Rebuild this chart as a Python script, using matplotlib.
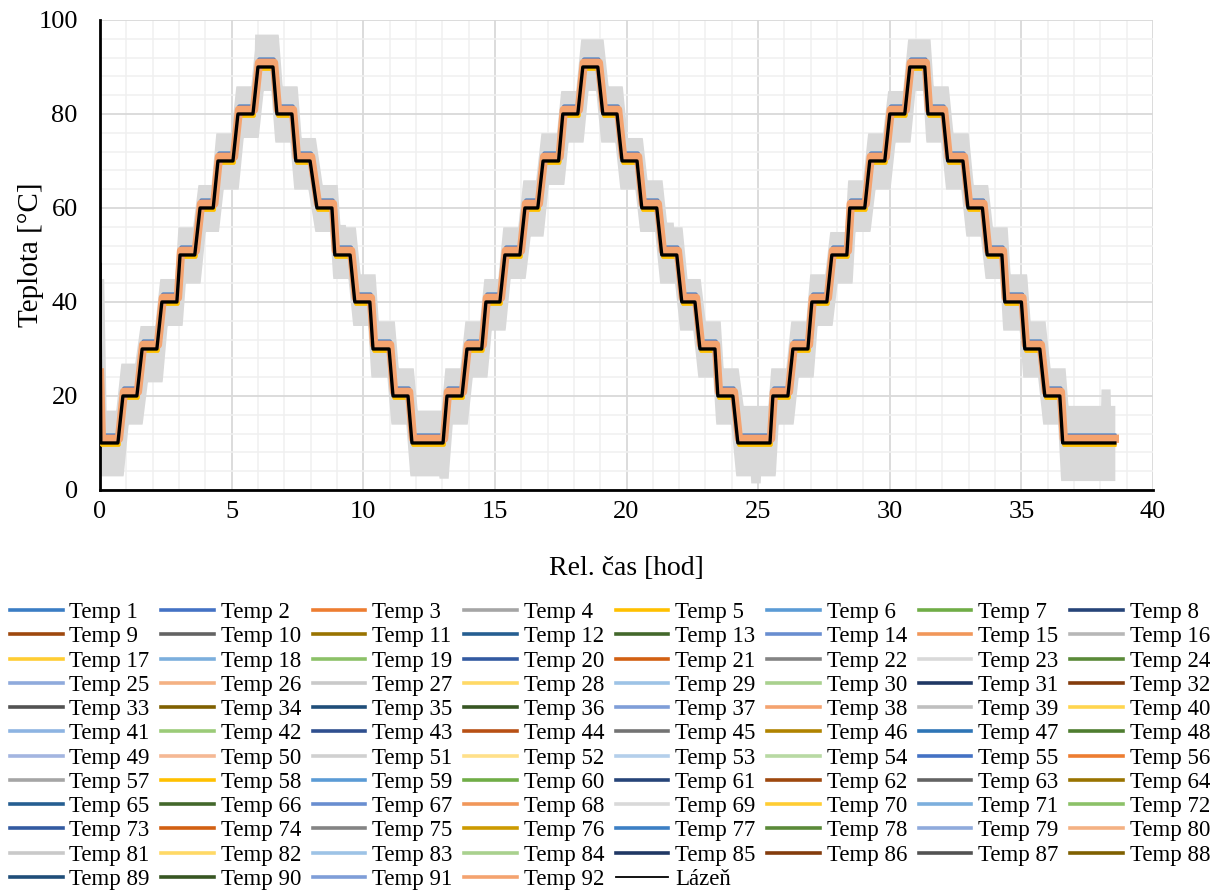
import numpy as np
import matplotlib.pyplot as plt
from matplotlib.lines import Line2D
from matplotlib.ticker import MultipleLocator

plt.rcParams['font.family'] = ['Liberation Serif', 'DejaVu Serif']

# plateaus of the bath set point: level [°C], start and end [hod]
plateau_levels = [10, 20, 30, 40, 50, 60, 70, 80, 90, 80, 70, 60, 50, 40, 30, 20, 10,
                  20, 30, 40, 50, 60, 70, 80, 90, 80, 70, 60, 50, 40, 30, 20, 10,
                  20, 30, 40, 50, 60, 70, 80, 90, 80, 70, 60, 50, 40, 30, 20, 10]
plateau_start = [0.03, 0.87, 1.60, 2.35, 3.04, 3.80, 4.48, 5.24, 6.00, 6.72, 7.44, 8.24, 8.92,
                 9.68, 10.37, 11.13, 11.85,
                 13.18, 13.94, 14.66, 15.38, 16.14, 16.83, 17.58, 18.34, 19.10, 19.83, 20.58,
                 21.34, 22.10, 22.79, 23.47, 24.23,
                 25.56, 26.32, 27.04, 27.80, 28.48, 29.24, 30.00, 30.76, 31.45, 32.20, 32.97,
                 33.70, 34.37, 35.13, 35.89, 36.57]
plateau_end = [0.68, 1.40, 2.16, 2.92, 3.60, 4.30, 5.05, 5.81, 6.57, 7.29, 7.98, 8.81, 9.50,
               10.25, 10.98, 11.70, 13.03,
               13.75, 14.50, 15.19, 15.95, 16.63, 17.42, 18.15, 18.91, 19.64, 20.40, 21.15,
               21.91, 22.60, 23.36, 24.04, 25.45,
               26.13, 26.89, 27.61, 28.37, 29.05, 29.81, 30.57, 31.33, 32.02, 32.78, 33.52,
               34.26, 35.00, 35.70, 36.46, 38.55]
bath_first_value = 48
sensor_first_value = 25

# spread of the noisy sensors around each plateau (above / below) [°C]
noise_hi = [7, 7, 5, 5, 6, 5, 6, 6, 7, 6, 5, 5, 6, 6, 6, 6, 7,
            6, 6, 5, 6, 6, 6, 5, 6, 6, 5, 6, 6, 5, 6, 6, 8,
            6, 6, 6, 5, 6, 6, 5, 6, 6, 6, 5, 6, 6, 6, 6, 8]
noise_lo = [7, 6, 7, 5, 6, 5, 6, 5, 5, 6, 6, 5, 5, 5, 6, 6, 7,
            6, 6, 6, 5, 6, 5, 6, 5, 6, 6, 5, 6, 6, 6, 6, 7,
            6, 6, 5, 6, 5, 6, 6, 5, 6, 6, 6, 5, 6, 6, 6, 8]
noise_first = (22, 45)
# single spikes of the noisy sensors: time [hod], value [°C]
spike_t = [6.05, 18.45, 30.85, 13.05, 24.9, 37.3, 38.2, 9.15, 21.6]
spike_v = [97, 96, 96, 2.5, 1.5, 2.5, 21.5, 56.5, 57]

series_colors = [
    "#3B7DC4", "#4472C4", "#ED7D31", "#A5A5A5", "#FFC000", "#5B9BD5", "#70AD47", "#264478",
    "#9E480E", "#636363", "#997300", "#255E91", "#43682B", "#698ED0", "#F1975A", "#B7B7B7",
    "#FFCD33", "#7CAFDD", "#8CC168", "#335AA1", "#D26012", "#848484", "#D9D9D9", "#5A8A39",
    "#8FAADC", "#F4B183", "#C9C9C9", "#FFD966", "#9DC3E6", "#A9D18E", "#203864", "#843C0C",
    "#525252", "#7F6000", "#1F4E79", "#375623", "#7F9ED8", "#F4A36F", "#BFBFBF", "#FFD54F",
    "#8DB4E2", "#9BCB78", "#2F4F8F", "#B85015", "#737373", "#B08300", "#2E75B6", "#4E7D2F",
    "#A3B5E0", "#F5B894", "#D0D0D0", "#FFE08A", "#B4CFEB", "#B8D9A3", "#4472C4", "#ED7D31",
    "#A5A5A5", "#FFC000", "#5B9BD5", "#70AD47", "#264478", "#9E480E", "#636363", "#997300",
    "#255E91", "#43682B", "#698ED0", "#F1975A", "#D9D9D9", "#FFCD33", "#7CAFDD", "#8CC168",
    "#335AA1", "#D26012", "#848484", "#CC9A00", "#3C7FC4", "#5A8A39", "#8FAADC", "#F4B183",
    "#C9C9C9", "#FFD966", "#9DC3E6", "#A9D18E", "#203864", "#843C0C", "#525252", "#7F6000",
    "#1F4E79", "#375623", "#7F9ED8", "#F4A36F",
]
# offset of each sensor from the bath [°C]
series_offsets = [
    1.7, 1.2, 0.9, 0.6, -0.5, 1.1, 0.7, 0.5,
    0.8, 0.6, 0.4, 1.5, 0.9, 1.0, 1.2, 0.7,
    -0.4, 0.9, 0.6, 0.8, 0.9, 0.5, 0.7, 0.6,
    1.0, 1.1, 0.8, 0.3, 0.9, 0.7, 0.6, 0.8,
    0.5, 0.7, 0.9, 0.6, 1.0, 1.3, 0.8, -0.3,
    1.0, 0.7, 0.9, 0.8, 0.6, 0.4, 1.1, 0.7,
    1.0, 1.2, 0.8, 0.5, 0.9, 0.7, 1.6, 1.0,
    0.7, -0.4, 1.0, 0.7, 0.8, 0.9, 0.6, 0.5,
    0.9, 0.7, 1.0, 1.2, 0.8, 0.3, 0.9, 0.7,
    0.8, 0.9, 0.6, 0.4, 1.0, 0.7, 1.0, 1.2,
    0.8, 0.5, 0.9, 0.7, 0.8, 0.9, 0.6, 0.6,
    0.9, 0.7, 1.0, 0.9,
]
series_labels = ["Temp %d" % (i + 1) for i in range(len(series_colors))]
bath_label = "Lázeň"

sensor_lag = 0.04
noise_lag = 0.06

# bath curve
t_bath = [0.0]
y_bath = [bath_first_value]
for lvl, s, e in zip(plateau_levels, plateau_start, plateau_end):
    t_bath += [s, e]
    y_bath += [lvl, lvl]
t_bath = np.array(t_bath)
y_bath = np.array(y_bath, dtype=float)

# envelope of the noisy sensors, slightly widened over the transitions
t_band = [0.0]
band_lo = [noise_first[0]]
band_hi = [noise_first[1]]
for lvl, s, e, hi, lo in zip(plateau_levels, plateau_start, plateau_end, noise_hi, noise_lo):
    t_band += [s + noise_lag, e + noise_lag]
    band_hi += [lvl + hi, lvl + hi]
    band_lo += [lvl - lo, lvl - lo]
t_band[-1] = plateau_end[-1]
t_fine = np.linspace(0, plateau_end[-1], 3000)
hi_line = np.interp(t_fine, t_band, band_hi)
lo_line = np.interp(t_fine, t_band, band_lo)
for ts, vs in zip(spike_t, spike_v):
    k = np.abs(t_fine - ts) < 0.04
    if vs > np.interp(ts, t_band, band_hi):
        hi_line[k] = np.maximum(hi_line[k], vs)
    else:
        lo_line[k] = np.minimum(lo_line[k], vs)
w = 11
upper = np.array([hi_line[max(0, i - w):i + w + 1].max() for i in range(len(t_fine))])
lower = np.array([lo_line[max(0, i - w):i + w + 1].min() for i in range(len(t_fine))])

fig = plt.figure(figsize=(12.27, 8.92), dpi=100)
ax = fig.add_axes([0.0815, 0.4507, 0.8582, 0.5269])

ax.fill_between(t_fine, lower, upper, color="#D9D9D9", lw=0, zorder=2)

t_sensor = t_bath + sensor_lag
t_sensor[0] = 0.0
t_sensor[-1] = t_bath[-1]
for i, (col, off) in enumerate(zip(series_colors, series_offsets)):
    y = y_bath + off
    y[0] = sensor_first_value
    lw = 6 if i == len(series_colors) - 1 else 2.2
    ax.plot(t_sensor, y, color=col, lw=lw, zorder=3, solid_joinstyle='round')
ax.plot(t_bath, y_bath, color="black", lw=2.4, zorder=4)

ax.set_xlim(0, 40)
ax.set_ylim(0, 100)
ax.xaxis.set_major_locator(MultipleLocator(5))
ax.xaxis.set_minor_locator(MultipleLocator(1))
ax.yaxis.set_major_locator(MultipleLocator(20))
ax.yaxis.set_minor_locator(MultipleLocator(4))
ax.grid(which='major', color="#D9D9D9", lw=1.3, zorder=0)
ax.grid(which='minor', color="#F0F0F0", lw=1.1, zorder=0)
ax.set_axisbelow(True)
ax.tick_params(which='both', length=0, labelsize=19)
ax.tick_params(axis='y', pad=16)
ax.tick_params(axis='x', pad=8)
for side in ['top', 'right']:
    ax.spines[side].set_visible(False)
for side in ['left', 'bottom']:
    ax.spines[side].set_color("black")
    ax.spines[side].set_linewidth(2)

ax.set_xlabel("Rel. čas [hod]", fontsize=20, labelpad=24)
ax.set_ylabel("Teplota [°C]", fontsize=21, labelpad=-4)

# legend filled row by row like the original
handles = [Line2D([], [], color=c, lw=2.6) for c in series_colors]
handles.append(Line2D([], [], color="black", lw=1.3))
labels = series_labels + [bath_label]
ncol = 8
n = len(labels)
nrows = -(-n // ncol)
order = []
for c in range(ncol):
    for r in range(nrows):
        k = r * ncol + c
        if k < n:
            order.append(k)
fig.legend([handles[k] for k in order], [labels[k] for k in order],
           ncol=ncol, loc='upper left', bbox_to_anchor=(0.008, 0.325),
           frameon=False, fontsize=16.5, handlelength=2.3, handletextpad=0.3,
           columnspacing=0.5, labelspacing=0.14, borderaxespad=0, borderpad=0)

fig.savefig("out.png", dpi=100)
